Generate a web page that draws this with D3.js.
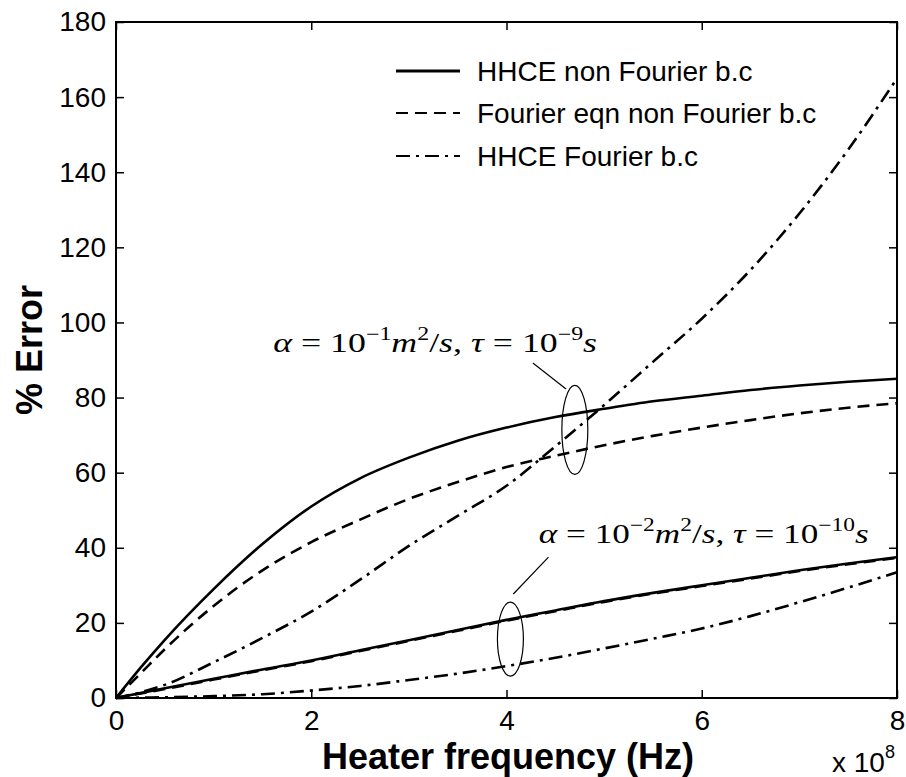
<!DOCTYPE html>
<html>
<head>
<meta charset="utf-8">
<script src="https://cdn.jsdelivr.net/npm/d3@7"></script>
<style>
  html, body { margin: 0; padding: 0; background: #fff; }
  svg { display: block; }
</style>
</head>
<body>
<svg id="chart" width="906" height="777"></svg>
<script>
// ---------------- data ----------------
const freq = [0, 0.25, 0.5, 1, 1.5, 2, 2.5, 3, 3.5, 4, 4.5, 5, 5.5, 6, 6.5, 7, 7.5, 8]; // x 10^8 Hz

// alpha = 1e-1 m^2/s, tau = 1e-9 s
const hhceNonFourierA = [0, 8, 15.5, 29, 41, 51, 58.5, 64, 68.5, 72, 74.8, 77, 79, 80.5, 82, 83.2, 84.2, 85];
const fourierNonFourierA = [0, 6.5, 13, 24.5, 34, 41.5, 47.5, 53, 57.5, 61.5, 64.5, 67.3, 69.8, 72, 74, 75.8, 77.3, 78.5];
const hhceFourierA = [0, 1.5, 3.5, 9.5, 16, 23, 31.5, 40.5, 48.5, 56.5, 67, 78, 89.5, 101, 114, 129, 146, 165];

// alpha = 1e-2 m^2/s, tau = 1e-10 s
const hhceNonFourierB = [0, 1.3, 2.6, 5.1, 7.6, 10, 12.7, 15.4, 18.1, 20.8, 23.3, 25.8, 28, 30, 32, 34, 35.8, 37.5];
const fourierNonFourierB = [0, 1.2, 2.4, 4.9, 7.4, 9.8, 12.5, 15.2, 17.9, 20.6, 23.1, 25.6, 27.8, 29.8, 31.8, 33.8, 35.6, 37.3];
const hhceFourierB = [0, 0.1, 0.2, 0.5, 1, 2, 3.2, 4.8, 6.5, 8.5, 10.7, 13.2, 15.8, 18.5, 21.8, 25.5, 29.4, 33.5];

const xTicks = [0, 2, 4, 6, 8];
const yTicks = [0, 20, 40, 60, 80, 100, 120, 140, 160, 180];

const legendLabels = ["HHCE non Fourier b.c", "Fourier eqn non Fourier b.c", "HHCE Fourier b.c"];
const xLabel = "Heater frequency (Hz)";
const yLabel = "% Error";

// annotation anchors in data units
const ellipses = [
  { cx: 4.70, cy: 71.4, rx: 0.133, ry: 11.85 },
  { cx: 4.04, cy: 15.7, rx: 0.133, ry: 9.85 }
];
const leaders = [
  { x1: 4.27, y1: 89.2, x2: 4.61, y2: 82.3 },
  { x1: 4.43, y1: 37.5, x2: 4.07, y2: 27.7 }
];
const notes = [
  { x: 1.61, y: 92.1, a: "\u22121", t: "\u22129", w: 324 },
  { x: 4.33, y: 41.4, a: "\u22122", t: "\u221210", w: 330 }
];

// ---------------- drawing ----------------
const svg = d3.select("#chart");
const L = 116, R = 897, T = 22, B = 698;
const x = d3.scaleLinear().domain([0, 8]).range([L, R]);
const y = d3.scaleLinear().domain([0, 180]).range([B, T]);

const sans = "'Liberation Sans', Arial, Helvetica, sans-serif";
const serif = "'Liberation Serif', 'DejaVu Serif', 'Times New Roman', serif";

// box
svg.append("rect").attr("x", L).attr("y", T).attr("width", R - L).attr("height", B - T)
  .attr("fill", "none").attr("stroke", "#000").attr("stroke-width", 2);

// axes with ticks
const tickLen = 8;
const xAxis = d3.axisBottom(x).tickValues(xTicks).tickSize(-tickLen).tickPadding(14).tickFormat(d3.format("d"));
const yAxis = d3.axisLeft(y).tickValues(yTicks).tickSize(-tickLen).tickPadding(10).tickFormat(d3.format("d"));

const gx = svg.append("g").attr("transform", `translate(0,${B})`).call(xAxis);
const gy = svg.append("g").attr("transform", `translate(${L},0)`).call(yAxis);
[gx, gy].forEach(g => {
  g.select(".domain").remove();
  g.selectAll(".tick line").attr("stroke", "#000").attr("stroke-width", 1.5);
  g.selectAll(".tick text").attr("fill", "#000").style("font-family", sans).style("font-size", "28px");
});
gx.selectAll(".tick text").attr("dy", "0.71em").attr("y", 12);
// mirrored ticks top/right
const gxt = svg.append("g").attr("transform", `translate(0,${T})`)
  .call(d3.axisTop(x).tickValues(xTicks).tickSize(-tickLen).tickFormat(""));
const gyr = svg.append("g").attr("transform", `translate(${R},0)`)
  .call(d3.axisRight(y).tickValues(yTicks).tickSize(-tickLen).tickFormat(""));
[gxt, gyr].forEach(g => {
  g.select(".domain").remove();
  g.selectAll(".tick line").attr("stroke", "#000").attr("stroke-width", 1.5);
});

// series
const styles = {
  solid: { dash: null, w: 2.6 },
  dashed: { dash: "12,7", w: 2.6 },
  dashdot: { dash: "14,6,3,6", w: 2.6 }
};
const series = [
  { v: hhceNonFourierA, s: "solid" },
  { v: fourierNonFourierA, s: "dashed" },
  { v: hhceFourierA, s: "dashdot" },
  { v: fourierNonFourierB, s: "dashed" },
  { v: hhceNonFourierB, s: "solid" },
  { v: hhceFourierB, s: "dashdot" }
];
const line = d3.line().x((d, i) => x(freq[i])).y(d => y(d)).curve(d3.curveMonotoneX);
const plot = svg.append("g");
series.forEach(sr => {
  const st = styles[sr.s];
  plot.append("path").datum(sr.v).attr("d", line)
    .attr("fill", "none").attr("stroke", "#000").attr("stroke-width", st.w)
    .attr("stroke-dasharray", st.dash).attr("stroke-linejoin", "round");
});

// ellipses & leaders
ellipses.forEach(e => {
  svg.append("ellipse").attr("cx", x(e.cx)).attr("cy", y(e.cy))
    .attr("rx", x(e.rx) - x(0)).attr("ry", y(0) - y(e.ry))
    .attr("fill", "none").attr("stroke", "#000").attr("stroke-width", 1.2);
});
leaders.forEach(l => {
  svg.append("line").attr("x1", x(l.x1)).attr("y1", y(l.y1)).attr("x2", x(l.x2)).attr("y2", y(l.y2))
    .attr("stroke", "#000").attr("stroke-width", 1.2);
});

// math notes
notes.forEach(n => {
  const g = svg.append("g");
  const t = g.append("text").attr("x", 0).attr("y", 0)
    .style("font-family", serif).style("font-size", "27px").attr("fill", "#000");
  t.append("tspan").style("font-style", "italic").text("\u03B1");
  t.append("tspan").text(" = 10");
  t.append("tspan").attr("dy", -12).style("font-size", "18px").text(n.a);
  t.append("tspan").attr("dy", 12).style("font-style", "italic").text("m");
  t.append("tspan").attr("dy", -12).style("font-size", "18px").text("2");
  t.append("tspan").attr("dy", 12).text("/");
  t.append("tspan").style("font-style", "italic").text("s");
  t.append("tspan").text(", ");
  t.append("tspan").style("font-style", "italic").text("\u03C4");
  t.append("tspan").text(" = 10");
  t.append("tspan").attr("dy", -12).style("font-size", "18px").text(n.t);
  t.append("tspan").attr("dy", 12).style("font-style", "italic").text("s");
  const len = t.node().getComputedTextLength();
  const k = n.w / len;
  g.attr("transform", `translate(${x(n.x)},${y(n.y)}) scale(${k},1)`);
});

// legend
const legendY = [71, 113, 156];
const legendDash = [null, "12,7", "14,6,3,6"];
legendLabels.forEach((lab, i) => {
  svg.append("line").attr("x1", 396).attr("x2", 460).attr("y1", legendY[i]).attr("y2", legendY[i])
    .attr("stroke", "#000").attr("stroke-width", i === 0 ? 3 : 2.2).attr("stroke-dasharray", legendDash[i]);
  svg.append("text").attr("x", 477).attr("y", legendY[i] + 10)
    .style("font-family", sans).style("font-size", "28px").attr("fill", "#000").text(lab);
});

// axis labels
svg.append("text").attr("x", 508).attr("y", 769).attr("text-anchor", "middle")
  .style("font-family", sans).style("font-size", "36px").style("font-weight", "bold").text(xLabel);
svg.append("text").attr("transform", "translate(42,350) rotate(-90)").attr("text-anchor", "middle")
  .style("font-family", sans).style("font-size", "36px").style("font-weight", "bold").text(yLabel);

// x 10^8 multiplier
const mult = svg.append("text").attr("x", 832).attr("y", 772)
  .style("font-family", sans).style("font-size", "28px").attr("fill", "#000");
mult.append("tspan").text("x 10");
mult.append("tspan").attr("dy", -14).style("font-size", "18px").text("8");
</script>
</body>
</html>
